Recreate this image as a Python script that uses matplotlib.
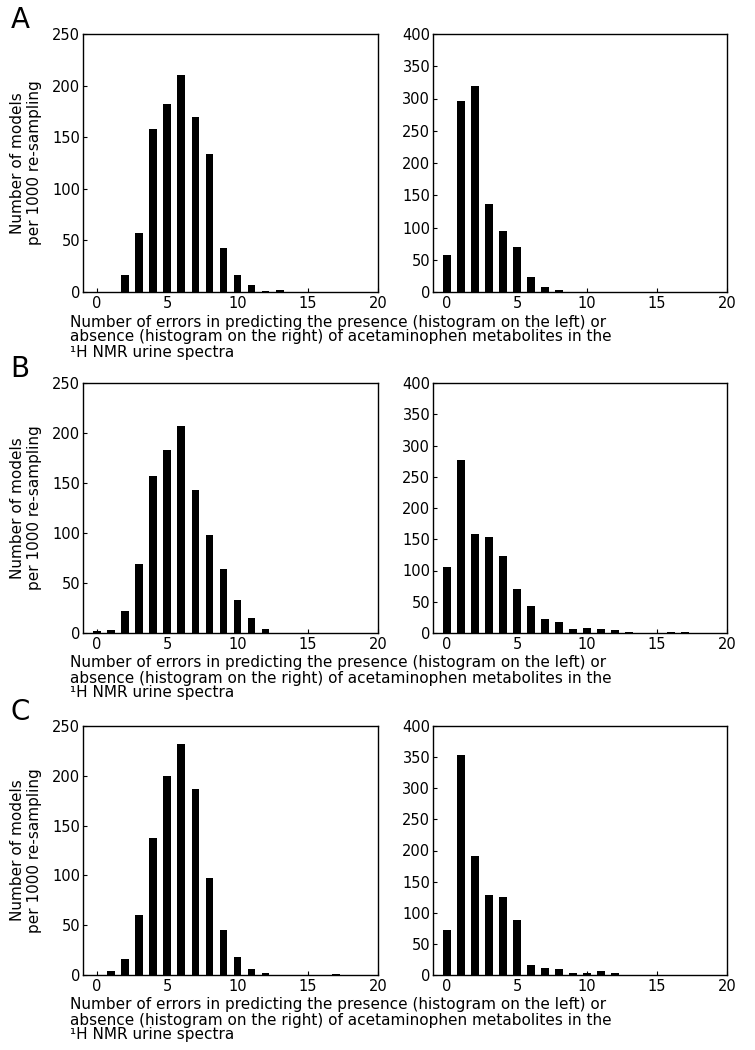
import numpy as np
import matplotlib
matplotlib.use("Agg")
import matplotlib.pyplot as plt

plt.rcParams['font.family'] = ['DejaVu Sans']

# number of errors (x positions of the bars)
errors = np.arange(0, 21)

# presence histograms (left column), counts per 1000 re-samplings
presence_A = [0, 0, 16, 57, 158, 182, 210, 170, 134, 43, 16, 7, 1, 2, 0, 0, 0, 0, 0, 0, 0]
presence_B = [2, 3, 22, 69, 157, 183, 207, 143, 98, 64, 33, 15, 4, 0, 0, 0, 0, 0, 0, 0, 0]
presence_C = [0, 4, 16, 60, 138, 200, 232, 187, 97, 45, 18, 6, 2, 0, 0, 0, 0, 1.5, 0, 0, 0]

# absence histograms (right column)
absence_A = [58, 296, 320, 136, 94, 69, 24, 8, 3.5, 0.5, 0, 0, 0, 0, 0, 0, 0, 0, 0, 0, 0]
absence_B = [105, 277, 159, 154, 124, 71, 43, 23, 17, 7, 8.5, 7, 5, 2, 0, 0.5, 1.5, 1.5, 0, 0, 0]
absence_C = [72, 354, 191, 129, 126, 88, 16, 11, 10, 3, 3, 6, 3, 0, 0, 0, 0, 0, 0, 0, 0]

panel_letters = ['A', 'B', 'C']
ylabel_text = "Number of models\nper 1000 re-sampling"
caption_lines = ["Number of errors in predicting the presence (histogram on the left) or",
                 "absence (histogram on the right) of acetaminophen metabolites in the",
                 "\u00b9H NMR urine spectra"]

W, H = 755, 1050
fig = plt.figure(figsize=(W / 100, H / 100), dpi=100)

# pixel layout of each row: (top, bottom)
rows = [(34, 292), (383, 633), (726, 975)]
left_x = (83, 378)
right_x = (433, 727)

presence = [presence_A, presence_B, presence_C]
absence = [absence_A, absence_B, absence_C]


def style_axis(ax, ymax, ystep):
    ax.set_xlim(-1, 20)
    ax.set_ylim(0, ymax)
    ax.set_xticks([0, 5, 10, 15, 20])
    ax.set_yticks(np.arange(0, ymax + 1, ystep))
    ax.tick_params(direction='in', length=3, width=0.8, labelsize=10.5,
                   top=False, right=False)
    ax.tick_params(axis='x', pad=3)
    ax.tick_params(axis='y', pad=2)
    for s in ax.spines.values():
        s.set_linewidth(1.0)


for i, (top, bottom) in enumerate(rows):
    b = 1 - bottom / H
    h = (bottom - top) / H

    axl = fig.add_axes([left_x[0] / W, b, (left_x[1] - left_x[0]) / W, h])
    axl.bar(errors, presence[i], width=0.55, color='black')
    style_axis(axl, 250, 50)

    axr = fig.add_axes([right_x[0] / W, b, (right_x[1] - right_x[0]) / W, h])
    axr.bar(errors, absence[i], width=0.55, color='black')
    style_axis(axr, 400, 50)

    # y label shared by the row
    fig.text(26 / W, 1 - (top + bottom) / 2 / H, ylabel_text, rotation=90,
             ha='center', va='center', fontsize=11, linespacing=1.1)

    # panel letter
    fig.text(20 / W, 1 - (top - 14) / H, panel_letters[i], ha='center',
             va='center', fontsize=20)

    # caption under the row
    for k, off in enumerate([30, 45, 60]):
        fig.text(70 / W, 1 - (bottom + off) / H, caption_lines[k],
                 ha='left', va='center', fontsize=11)

fig.savefig('out.png', dpi=100)
